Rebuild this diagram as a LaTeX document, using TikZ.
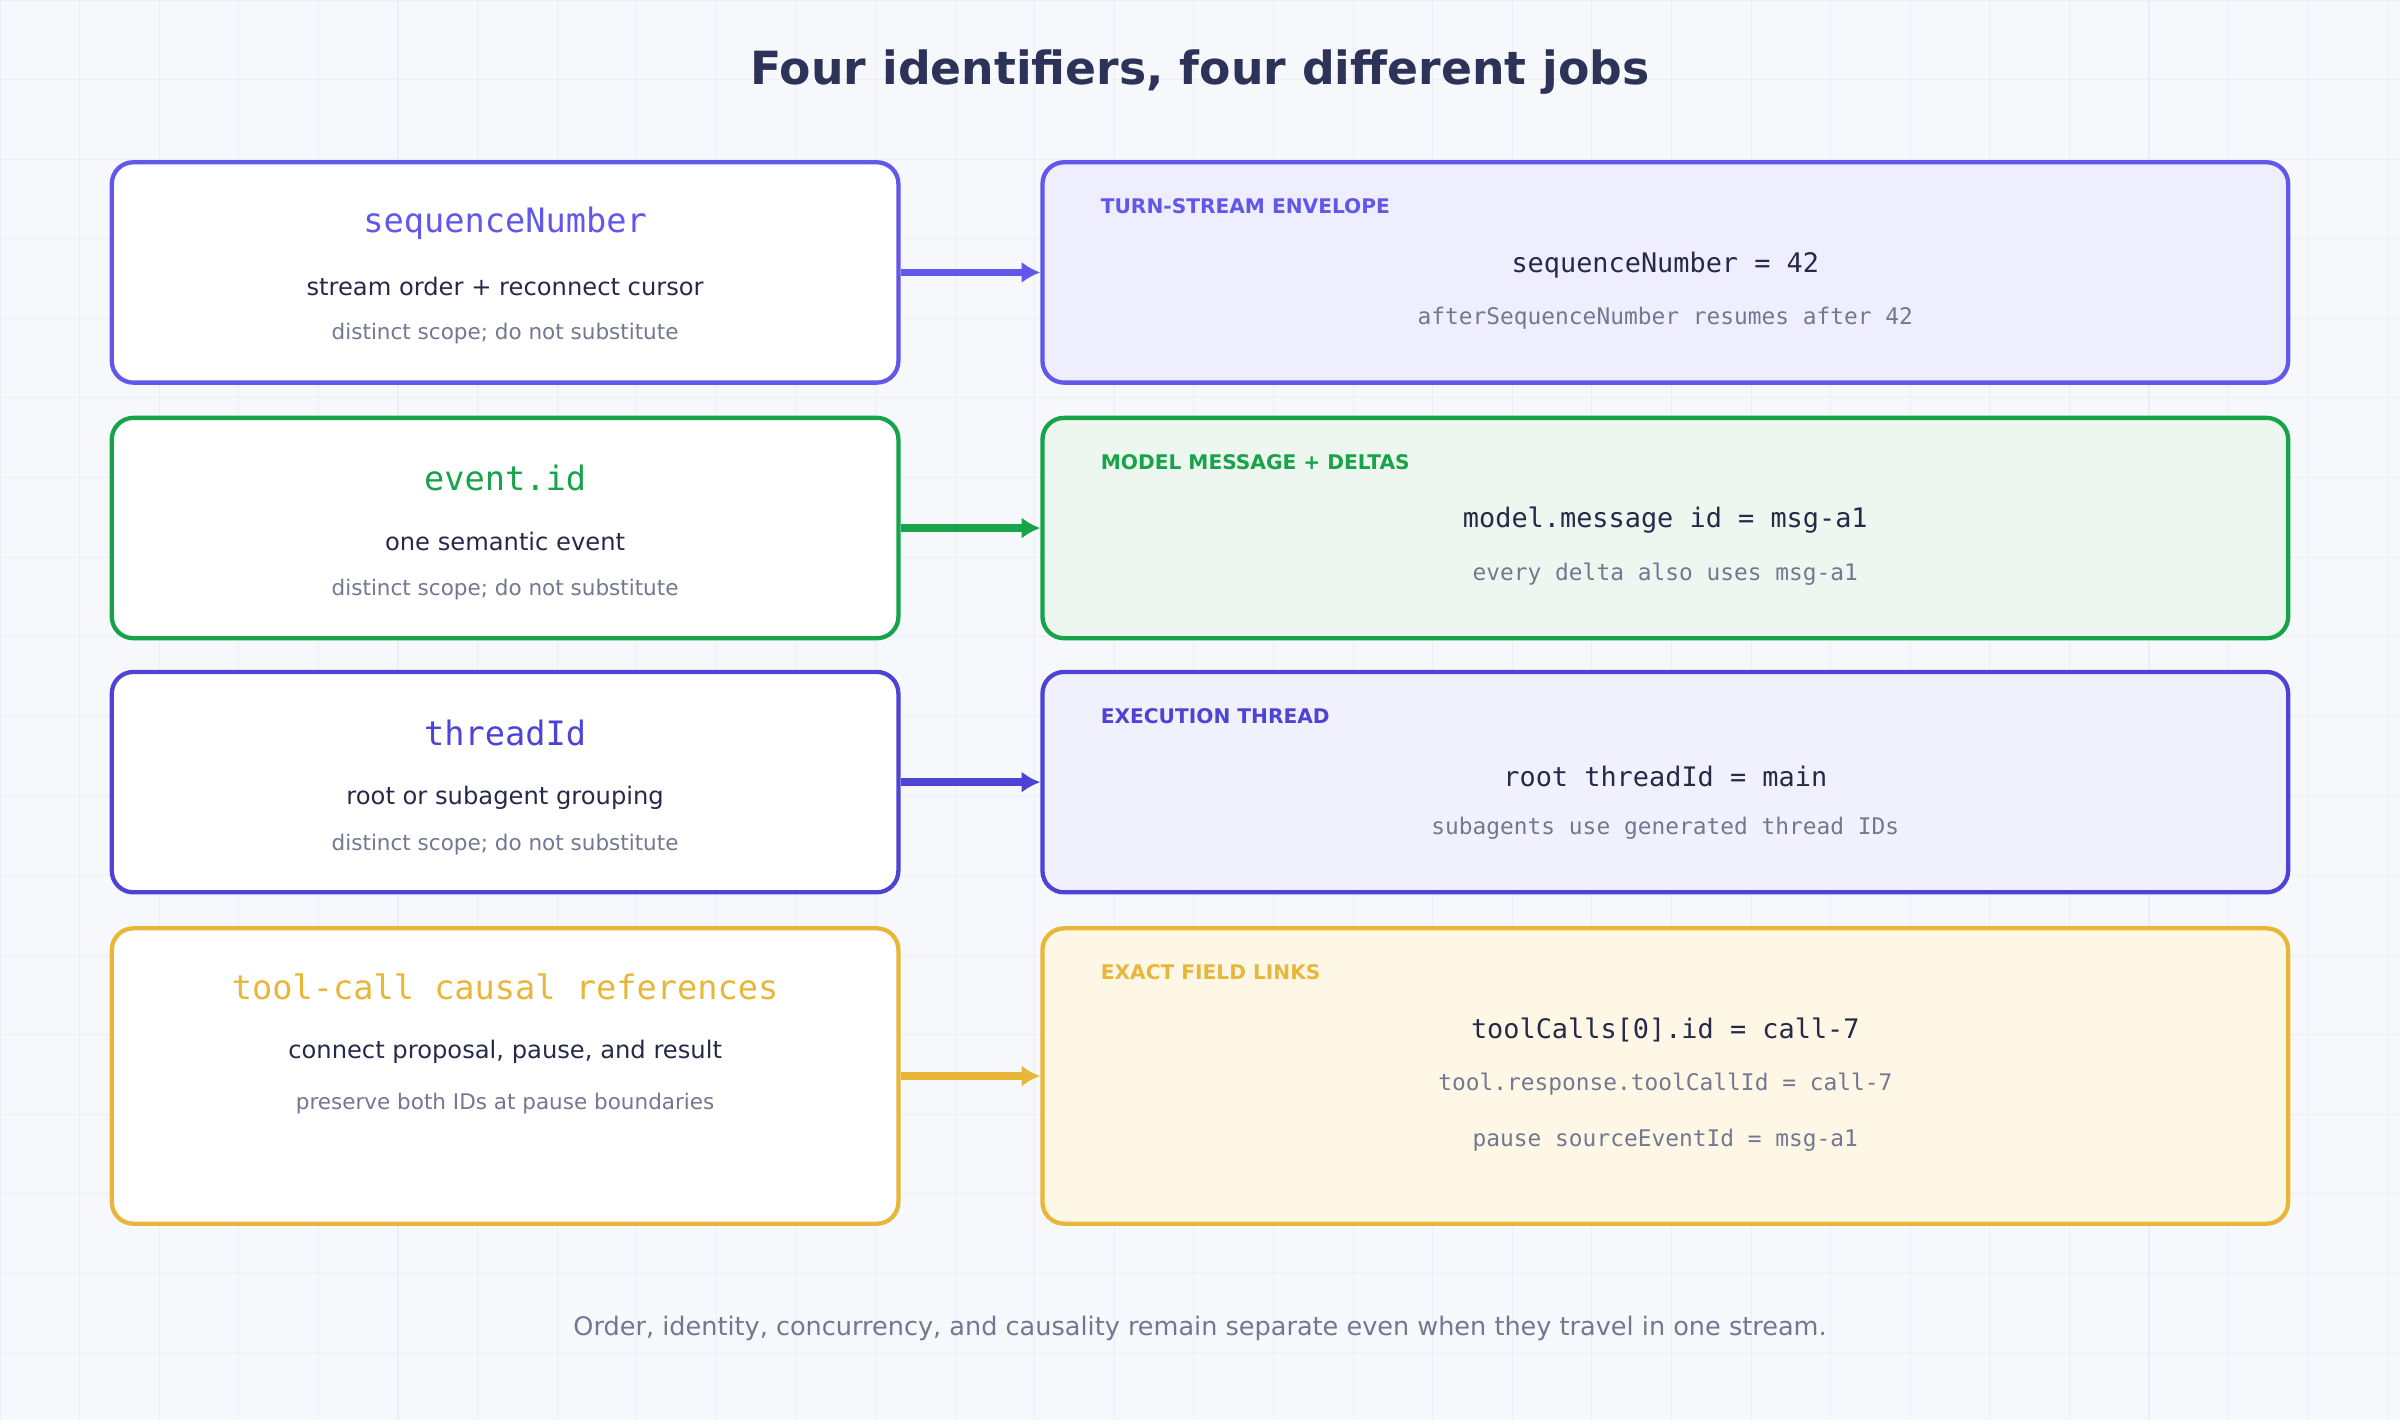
\documentclass[tikz,border=0pt]{standalone}
\usepackage{fontspec}
\setmainfont{DejaVu Sans}
\setmonofont{DejaVu Sans Mono}
\usetikzlibrary{arrows.meta,positioning}
\definecolor{bg}{HTML}{F7F8FC}
\definecolor{gridc}{HTML}{ECEEF5}
\definecolor{ink}{HTML}{2D3258}
\definecolor{txt}{HTML}{262A48}
\definecolor{muted}{HTML}{737891}
\definecolor{cseq}{HTML}{6157EA}
\definecolor{cevt}{HTML}{16A34A}
\definecolor{cthr}{HTML}{4D44D6}
\definecolor{ctool}{HTML}{E8B73A}
\definecolor{fseq}{HTML}{EFEEFE}
\definecolor{fevt}{HTML}{EDF7EF}
\definecolor{fthr}{HTML}{F1F1FD}
\definecolor{ftool}{HTML}{FEF7E6}
\tikzstyle{idbox}=[draw,line width=1.6pt,rounded corners=8pt,fill=white,minimum width=10.28cm,minimum height=2.88cm,inner sep=0pt]
\tikzstyle{scopebox}=[draw,line width=1.6pt,rounded corners=8pt,minimum width=16.28cm,minimum height=2.88cm,inner sep=0pt]
\tikzstyle{idname}=[font=\ttfamily\fontsize{12.5}{14}\selectfont]
\tikzstyle{idtext}=[text=txt,font=\fontsize{9}{11}\selectfont]
\tikzstyle{idnote}=[text=muted,font=\fontsize{8}{10}\selectfont]
\tikzstyle{tag}=[anchor=west,font=\bfseries\fontsize{7.5}{9}\selectfont]
\tikzstyle{code}=[text=txt,font=\ttfamily\fontsize{10}{12}\selectfont]
\tikzstyle{codenote}=[text=muted,font=\ttfamily\fontsize{8.5}{10}\selectfont]
\tikzstyle{link}=[draw,line width=2.8pt,-{Latex[length=7pt,width=8pt]}]
\begin{document}
\begin{tikzpicture}[x=0.02cm,y=-0.02cm]
          \fill[bg] (0,0) rectangle (1568,928);
          \useasboundingbox (0,0) rectangle (1568,928);
          \foreach \gx in {0,52,...,1568} \draw[gridc,line width=0.4pt] (\gx,0) -- (\gx,928);
          \foreach \gy in {0,52,...,928} \draw[gridc,line width=0.4pt] (0,\gy) -- (1568,\gy);
          \node[text=ink,font=\bfseries\fontsize{17}{20}\selectfont] (title) at (784,47) {Four identifiers, four different jobs};
          % sequenceNumber
          \node[idbox,draw=cseq] (seq) at (330,178) {};
          \node[idname,text=cseq] (seqname) at (330,146) {sequenceNumber};
          \node[idtext] (seqtext) at (330,187) {stream order + reconnect cursor};
          \node[idnote] (seqnote) at (330,218) {distinct scope; do not substitute};
          \node[scopebox,draw=cseq,fill=fseq] (env) at (1088,178) {};
          \node[tag,text=cseq] (envtag) at (713,135) {TURN-STREAM ENVELOPE};
          \node[code] (envcode) at (1088,173) {sequenceNumber = 42};
          \node[codenote] (envnote) at (1088,208) {afterSequenceNumber resumes after 42};
          % event.id
          \node[idbox,draw=cevt] (evt) at (330,345) {};
          \node[idname,text=cevt] (evtname) at (330,312) {event.id};
          \node[idtext] (evttext) at (330,354) {one semantic event};
          \node[idnote] (evtnote) at (330,385) {distinct scope; do not substitute};
          \node[scopebox,draw=cevt,fill=fevt] (msg) at (1088,345) {};
          \node[tag,text=cevt] (msgtag) at (713,302) {MODEL MESSAGE + DELTAS};
          \node[code] (msgcode) at (1088,340) {model.message id = msg-a1};
          \node[codenote] (msgnote) at (1088,375) {every delta also uses msg-a1};
          % threadId
          \node[idbox,draw=cthr] (thr) at (330,511) {};
          \node[idname,text=cthr] (thrname) at (330,479) {threadId};
          \node[idtext] (thrtext) at (330,521) {root or subagent grouping};
          \node[idnote] (thrnote) at (330,552) {distinct scope; do not substitute};
          \node[scopebox,draw=cthr,fill=fthr] (exe) at (1088,511) {};
          \node[tag,text=cthr] (exetag) at (713,468) {EXECUTION THREAD};
          \node[code] (execode) at (1088,507) {root threadId = main};
          \node[codenote] (exenote) at (1088,541) {subagents use generated thread IDs};
          % tool-call references
          \node[idbox,draw=ctool,minimum height=3.86cm] (tool) at (330,703) {};
          \node[idname,text=ctool] (toolname) at (330,645) {tool-call causal references};
          \node[idtext] (tooltext) at (330,687) {connect proposal, pause, and result};
          \node[idnote] (toolnote) at (330,721) {preserve both IDs at pause boundaries};
          \node[scopebox,draw=ctool,fill=ftool,minimum height=3.86cm] (links) at (1088,703) {};
          \node[tag,text=ctool] (linkstag) at (713,635) {EXACT FIELD LINKS};
          \node[code] (linkscode) at (1088,673) {toolCalls[0].id = call-7};
          \node[codenote] (linksnote) at (1088,708) {tool.response.toolCallId = call-7};
          \node[codenote] (linkspause) at (1088,745) {pause sourceEventId = msg-a1};
          \draw[link,cseq] (seq) -- (env);
          \draw[link,cevt] (evt) -- (msg);
          \draw[link,cthr] (thr) -- (exe);
          \draw[link,ctool] (tool) -- (links);
          \node[text=muted,font=\fontsize{9.5}{11}\selectfont] (caption) at (784,868) {Order, identity, concurrency, and causality remain separate even when they travel in one stream.};
\end{tikzpicture}
\end{document}
